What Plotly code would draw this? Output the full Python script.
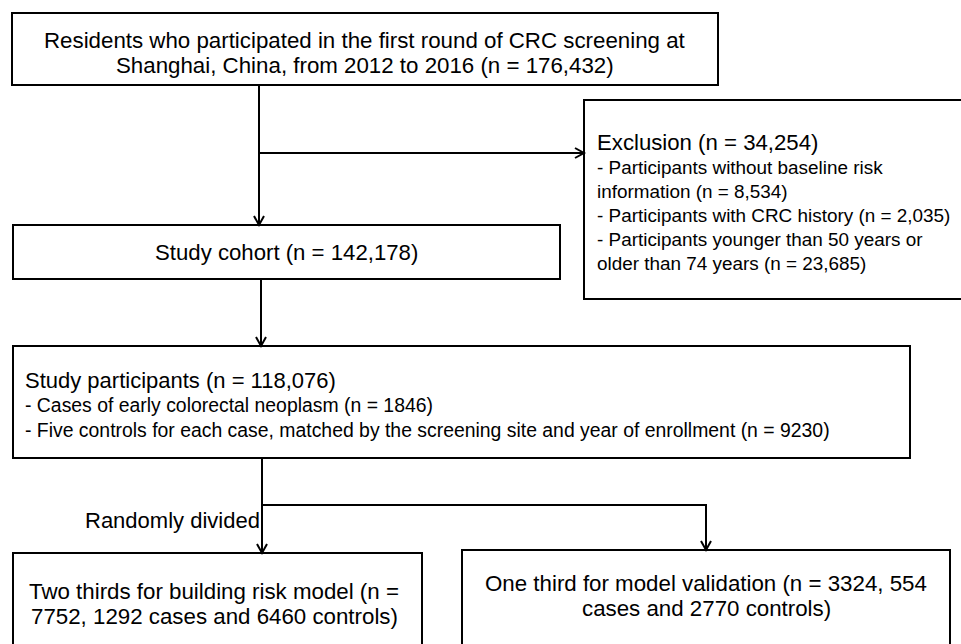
import plotly.graph_objects as go

# ---- content (text) ----
top_box_lines = ["Residents who participated in the first round of CRC screening at",
                 "Shanghai, China, from 2012 to 2016 (n = 176,432)"]
exclusion_title = "Exclusion (n = 34,254)"
exclusion_lines = ["- Participants without baseline risk",
                   "information (n = 8,534)",
                   "- Participants with CRC history (n = 2,035)",
                   "- Participants younger than 50 years or",
                   "older than 74 years (n = 23,685)"]
cohort_text = "Study cohort (n = 142,178)"
participants_title = "Study participants (n = 118,076)"
participants_lines = ["- Cases of early colorectal neoplasm (n = 1846)",
                      "- Five controls for each case, matched by the screening site and year of enrollment (n = 9230)"]
split_label = "Randomly divided"
left_box_lines = ["Two thirds for building risk model (n =",
                  "7752, 1292 cases and 6460 controls)"]
right_box_lines = ["One third for model validation (n = 3324, 554",
                   "cases and 2770 controls)"]

# ---- layout geometry (pixels) ----
W, H = 961, 644
FONT = "Liberation Sans, Arial, sans-serif"
boxes = [
    (12, 13, 718, 85),      # top
    (584, 100, 975, 299),   # exclusion
    (13, 225, 560, 279),    # cohort
    (13, 346, 910, 458),    # participants
    (13, 553, 422, 665),    # left bottom
    (462, 550, 950, 665),   # right bottom
]

fig = go.Figure()
fig.add_trace(go.Scatter(x=[0, W], y=[0, H], mode="markers",
                         marker=dict(opacity=0), hoverinfo="skip", showlegend=False))

shapes = []
for (x0, y0, x1, y1) in boxes:
    shapes.append(dict(type="rect", xref="x", yref="y", x0=x0, y0=y0, x1=x1, y1=y1,
                       line=dict(color="black", width=2), fillcolor="rgba(0,0,0,0)"))

def seg(path):
    shapes.append(dict(type="path", xref="x", yref="y", path=path,
                       line=dict(color="black", width=2)))

def down_arrow(x, y):
    seg(f"M {x-5},{y-9} L {x},{y} L {x+5},{y-9}")

def right_arrow(x, y):
    seg(f"M {x-9},{y-5} L {x},{y} L {x-9},{y+5}")

# connectors
seg("M 259,85 L 259,225"); down_arrow(259, 225)
seg("M 259,153 L 584,153"); right_arrow(584, 153)
seg("M 261,279 L 261,346"); down_arrow(261, 346)
seg("M 262,458 L 262,553"); down_arrow(262, 553)
seg("M 262,505 L 706,505 L 706,550"); down_arrow(706, 550)

ann = []
def txt(x, y, s, size, anchor="center"):
    ann.append(dict(x=x, y=y, xref="x", yref="y", text=s, showarrow=False,
                    xanchor=anchor, yanchor="middle", align=anchor if anchor != "center" else "center",
                    font=dict(family=FONT, size=size, color="black")))

for i, s in enumerate(top_box_lines):
    txt(365, 40 + i * 25, s, 22.3)
txt(595, 142, exclusion_title, 22.2, "left")
for i, s in enumerate(exclusion_lines):
    txt(595, 167 + i * 24, s, 18.9, "left")
txt(286, 252, cohort_text, 22.2)
txt(23, 380, participants_title, 22, "left")
for i, s in enumerate(participants_lines):
    txt(23, 405 + i * 24.5, s, 19.4, "left")
txt(262, 520, split_label, 22, "right")
for i, s in enumerate(left_box_lines):
    txt(214, 591 + i * 25.5, s, 22.3)
for i, s in enumerate(right_box_lines):
    txt(706, 583 + i * 25.5, s, 22.3)

fig.update_layout(
    width=W, height=H, margin=dict(l=0, r=0, t=0, b=0),
    paper_bgcolor="white", plot_bgcolor="white",
    xaxis=dict(range=[0, W], visible=False, fixedrange=True),
    yaxis=dict(range=[H, 0], visible=False, fixedrange=True),
    shapes=shapes, annotations=ann, showlegend=False,
)
fig.write_html("out.html", post_script="document.body.style.margin='0';",
               config={"displayModeBar": False})
